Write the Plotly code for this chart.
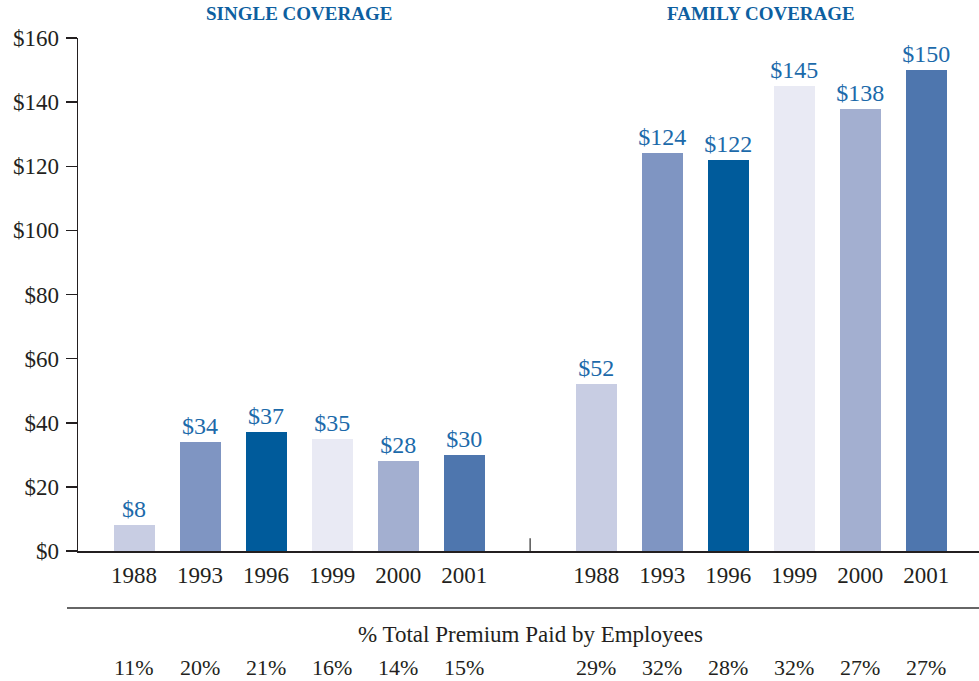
import plotly.graph_objects as go

years = ["1988", "1993", "1996", "1999", "2000", "2001"]
single_values = [8, 34, 37, 35, 28, 30]
family_values = [52, 124, 122, 145, 138, 150]
single_pct = ["11%", "20%", "21%", "16%", "14%", "15%"]
family_pct = ["29%", "32%", "28%", "32%", "27%", "27%"]
bar_colors = ["#C8CDE3", "#7F95C2", "#005B9B", "#E9EAF4", "#A3AFD0", "#4E76AE"]
y_ticks = [0, 20, 40, 60, 80, 100, 120, 140, 160]

FONT = "Liberation Serif"
LABEL_BLUE = "#1C6AAA"
TITLE_BLUE = "#0E5FA0"
TEXT = "#231F20"

single_x = list(range(6))
family_x = [i + 7 for i in range(6)]

fig = go.Figure()
for xs, vals in ((single_x, single_values), (family_x, family_values)):
    fig.add_trace(go.Bar(
        x=xs, y=vals,
        marker=dict(color=bar_colors, line=dict(width=0)),
        width=0.62,
        text=[f"${v}" for v in vals],
        textposition="outside",
        constraintext="none",
        textfont=dict(family=FONT, size=24, color=LABEL_BLUE),
        cliponaxis=False,
        showlegend=False,
        hoverinfo="skip",
    ))

fig.update_layout(
    width=979, height=681,
    margin=dict(l=78, r=0, t=38, b=130),
    paper_bgcolor="white", plot_bgcolor="white",
    font=dict(family=FONT, size=22, color=TEXT),
    bargap=0,
)
fig.update_xaxes(
    range=[-0.85, 12.8],
    tickvals=single_x + family_x,
    ticktext=years + years,
    showline=True, linecolor=TEXT, linewidth=1.5,
    ticks="", showgrid=False, zeroline=False,
    tickfont=dict(family=FONT, size=23, color=TEXT),
    ticklabelstandoff=3,
)
fig.update_yaxes(
    range=[0, 160],
    tickvals=y_ticks,
    ticktext=[f"${v}" for v in y_ticks],
    showline=True, linecolor=TEXT, linewidth=1.5,
    ticks="outside", ticklen=11, tickcolor=TEXT, tickwidth=1.5,
    showgrid=False, zeroline=False,
    tickfont=dict(family=FONT, size=23, color=TEXT),
    ticklabelstandoff=2,
)

# separator tick between groups
fig.add_shape(type="line", xref="x", yref="y", x0=6, x1=6, y0=0, y1=4,
              line=dict(color="#555555", width=1.5))
# rule line above percentage row
fig.add_shape(type="line", xref="paper", yref="paper", x0=-0.0122, x1=1,
              y0=-0.111, y1=-0.111, line=dict(color="#333333", width=1.5))

fig.add_annotation(x=2.5, y=1.047, xref="x", yref="paper", yanchor="middle",
                   text="<b>SINGLE COVERAGE</b>", showarrow=False,
                   font=dict(family=FONT, size=19, color=TITLE_BLUE))
fig.add_annotation(x=9.5, y=1.047, xref="x", yref="paper", yanchor="middle",
                   text="<b>FAMILY COVERAGE</b>", showarrow=False,
                   font=dict(family=FONT, size=19, color=TITLE_BLUE))
fig.add_annotation(x=6, y=-0.162, xref="x", yref="paper", yanchor="middle",
                   text="% Total Premium Paid by Employees", showarrow=False,
                   font=dict(family=FONT, size=23, color=TEXT))
for xs, pcts in ((single_x, single_pct), (family_x, family_pct)):
    for xv, p in zip(xs, pcts):
        fig.add_annotation(x=xv, y=-0.228, xref="x", yref="paper",
                           yanchor="middle", text=p, showarrow=False,
                           borderpad=0,
                           font=dict(family=FONT, size=22, color=TEXT))

fig.write_html("out.html",
               config={"displayModeBar": False, "staticPlot": True},
               post_script="document.body.style.margin='0';"
                           "document.body.style.overflow='hidden';")
